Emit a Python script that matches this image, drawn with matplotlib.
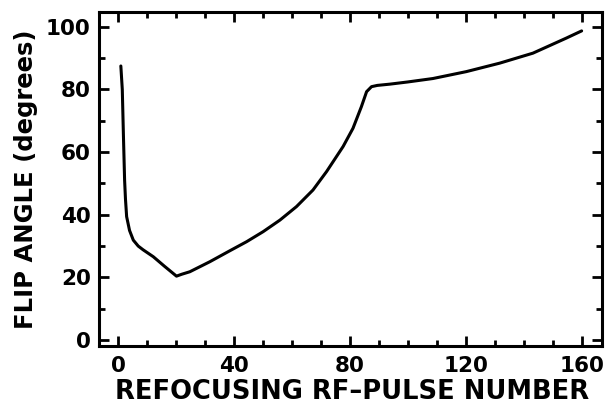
import matplotlib
matplotlib.use("Agg")
import matplotlib.pyplot as plt
from matplotlib.ticker import MultipleLocator

pulse = [1, 1.5, 1.9, 2.3, 2.6, 3.0, 4, 5.3, 7, 8.7, 12.2, 16, 20.2, 22,
         24.8, 31.7, 38.6, 44.4, 50.1, 55.9, 61.6, 67.3, 72.0, 77.7, 81.1,
         84.0, 85.8, 87.5, 89.5, 93.8, 100, 108.7, 120.2, 131.7, 143.2,
         154.7, 160]
angle = [87.5, 80, 65, 51, 45, 39.4, 35, 31.9, 30, 28.8, 26.6, 23.6, 20.4,
         21.0, 21.8, 25.0, 28.5, 31.4, 34.6, 38.3, 42.6, 47.9, 53.8, 61.8,
         67.6, 74.5, 79.3, 80.9, 81.3, 81.7, 82.4, 83.5, 85.7, 88.4, 91.6,
         96.4, 98.7]

xticks = [0, 40, 80, 120, 160]
yticks = [0, 20, 40, 60, 80, 100]

plt.rcParams['font.family'] = ['DejaVu Sans']
plt.rcParams['font.weight'] = 'bold'

fig = plt.figure(figsize=(6.08, 4.04), dpi=100)
ax = fig.add_axes([0.163, 0.1436, 0.827, 0.8264])
ax.plot(pulse, angle, color='black', lw=2.2, solid_joinstyle='round',
        solid_capstyle='round')
ax.set_xlim(-6.5, 167)
ax.set_ylim(-1.9, 104.7)
ax.set_xticks(xticks)
ax.set_yticks(yticks)
ax.xaxis.set_minor_locator(MultipleLocator(10))
ax.yaxis.set_minor_locator(MultipleLocator(10))
ax.tick_params(which='both', direction='in', top=True, right=True, width=2,
               labelsize=15.5)
ax.tick_params(axis='x', which='major', pad=7)
ax.tick_params(axis='y', which='major', pad=6)
ax.tick_params(which='major', length=7)
ax.tick_params(which='minor', length=4)
for lab in ax.get_xticklabels() + ax.get_yticklabels():
    lab.set_fontweight('bold')
for s in ax.spines.values():
    s.set_linewidth(2.2)
ax.set_xlabel('REFOCUSING RF\u2013PULSE NUMBER', fontsize=18.5, fontweight='bold')
ax.set_ylabel('FLIP ANGLE (degrees)', fontsize=17.5, fontweight='bold')
ax.xaxis.set_label_coords(0.503, -0.1)
ax.yaxis.set_label_coords(-0.122, 0.5)
fig.savefig('out.png', dpi=100)
